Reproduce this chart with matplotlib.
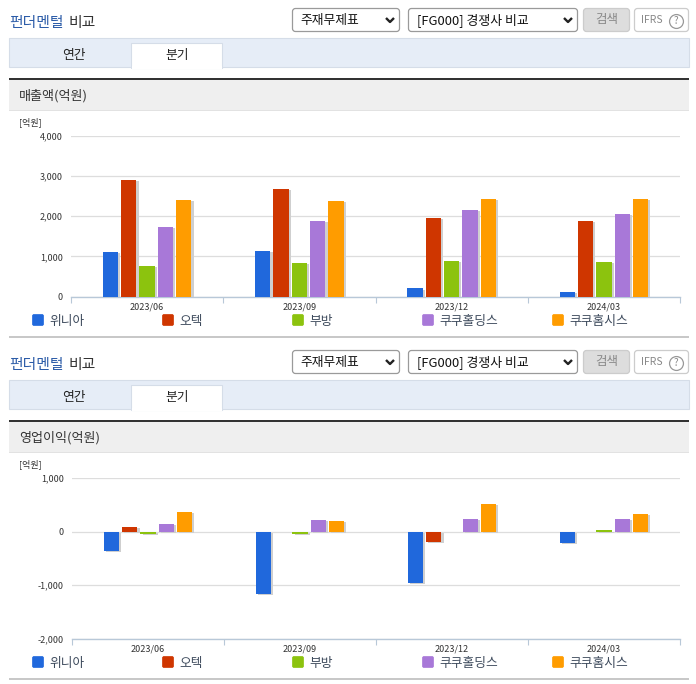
import matplotlib
matplotlib.use("Agg")
import matplotlib.pyplot as plt
import matplotlib.patheffects as pe
from matplotlib.patches import Rectangle, FancyBboxPatch
import numpy as np

plt.rcParams['font.family'] = ['Noto Sans CJK KR', 'DejaVu Sans']

W, H = 696, 684
quarters = ['2023/06', '2023/09', '2023/12', '2024/03']
companies = ['위니아', '오텍', '부방', '쿠쿠홀딩스', '쿠쿠홈시스']
colors = ['#2068dc', '#cf3600', '#8cc30e', '#a878d8', '#ff9c00']

winia_sales = [1115, 1140, 200, 115]
otec_sales = [2915, 2690, 1965, 1890]
bubang_sales = [765, 840, 890, 865]
cuckooh_sales = [1740, 1890, 2150, 2065]
cuckoos_sales = [2415, 2390, 2440, 2440]

winia_op = [-360, -1165, -960, -217]
otec_op = [87, 0, -190, 0]
bubang_op = [-40, -45, 0, 20]
cuckooh_op = [142, 217, 235, 235]
cuckoos_op = [365, 198, 514, 328]

sales = [winia_sales, otec_sales, bubang_sales, cuckooh_sales, cuckoos_sales]
op = [winia_op, otec_op, bubang_op, cuckooh_op, cuckoos_op]

fig = plt.figure(figsize=(W / 100, H / 100), dpi=100, facecolor='white')
ui = fig.add_axes([0, 0, 1, 1])
ui.set_xlim(0, W)
ui.set_ylim(H, 0)
ui.axis('off')


def rect(x0, y0, x1, y1, fc, ec='none', lw=0.0, z=1):
    ui.add_patch(Rectangle((x0, y0), x1 - x0, y1 - y0, fc=fc, ec=ec, lw=lw, zorder=z))


def rbox(x0, y0, x1, y1, fc, ec, z=2, r=3, lw=0.9):
    ui.add_patch(FancyBboxPatch((x0 + r, y0 + r), x1 - x0 - 2 * r, y1 - y0 - 2 * r,
                                boxstyle=f'round,pad={r},rounding_size={r}',
                                fc=fc, ec=ec, lw=lw, zorder=z))


def chevron(x, y):
    ui.plot([x - 4, x, x + 4], [y - 2, y + 2, y - 2], color='#222222', lw=1.7, zorder=3,
            solid_capstyle='butt')


def panel(dy, section, unit_y):
    ui.text(9.5, 23.5 + dy, '펀더멘털', color='#2c5ca8', fontsize=10.7, fontweight='medium', va='center', zorder=3)
    ui.text(68.5, 23.5 + dy, '비교', color='#333333', fontsize=10.7, fontweight='medium', va='center', zorder=3)
    rbox(292.5, 8.5 + dy, 399.5, 31.5 + dy, 'white', '#9a9a9a')
    ui.text(300, 20.5 + dy, '주재무제표', color='#111111', fontsize=9.2, va='center', zorder=3)
    chevron(390, 20 + dy)
    rbox(408.5, 8.5 + dy, 577.5, 31.5 + dy, 'white', '#9a9a9a')
    ui.text(417, 20.5 + dy, '[FG000] 경쟁사 비교', color='#111111', fontsize=9.3, va='center', zorder=3)
    chevron(568, 20 + dy)
    rbox(583.5, 8.5 + dy, 629.5, 31.5 + dy, '#dddddd', '#cccccc')
    ui.text(606.5, 19.5 + dy, '검색', color='#888888', fontsize=9, ha='center', va='center', zorder=3)
    rbox(634.5, 8.5 + dy, 688.5, 31.5 + dy, 'white', '#cccccc')
    ui.text(641, 20 + dy, 'IFRS', color='#888888', fontsize=7.5, va='center', zorder=3)
    ui.plot([675.5], [20.5 + dy], 'o', ms=10, mfc='white', mec='#999999', mew=0.9, zorder=3)
    ui.text(675.5, 20.5 + dy, '?', color='#888888', fontsize=7, ha='center', va='center', zorder=4)

    rect(9, 38 + dy, 688.5, 67 + dy, '#e6edf7', '#d5dde8', 0.8)
    rect(131, 43 + dy, 222, 67.5 + dy, 'white', '#d5dde8', 0.8, z=2)
    rect(131.5, 65.5 + dy, 221.5, 68.5 + dy, 'white', z=2)
    ui.text(74, 55 + dy, '연간', color='#222222', fontsize=9.2, ha='center', va='center', zorder=3)
    ui.text(177, 55 + dy, '분기', color='#222222', fontsize=9.2, ha='center', va='center', zorder=3)

    rect(9, 78 + dy, 689, 80 + dy, '#333333', z=2)
    rect(9, 80 + dy, 689, 110 + dy, '#efefef', z=1)
    rect(9, 110 + dy, 689, 111 + dy, '#e2e2e2', z=1)
    ui.text(19, 96 + dy, section, color='#333333', fontsize=9.4, va='center', zorder=3)
    ui.text(19, unit_y, '[억원]', color='#333333', fontsize=6.5, va='center', zorder=3)

    for i, (name, col) in enumerate(zip(companies, colors)):
        x = 32 + 130 * i
        rbox(x + 0.5, 314.5 + dy, x + 11.5, 325.5 + dy, col, col, r=1.5, lw=0.5)
        ui.text(x + 17, 321 + dy, name, color='#3d4a5c', fontsize=9.2, va='center', zorder=3)
    rect(9, 336 + dy, 689, 338 + dy, '#c8c8c8', z=1)


def chart(x0, x1, ytop, ybot, series, ylim, yticks):
    ax = fig.add_axes([x0 / W, 1 - ybot / H, (x1 - x0) / W, (ybot - ytop) / H])
    ax.patch.set_alpha(0)
    ax.set_xlim(0, len(quarters))
    ax.set_ylim(*ylim)
    pos = np.arange(len(quarters)) + 0.5
    step = 18.3 / ((x1 - x0) / len(quarters))
    width = 15.3 / ((x1 - x0) / len(quarters))
    shadow = [pe.SimplePatchShadow(offset=(1.6, -0.9), shadow_rgbFace='#cfcfcf', alpha=1), pe.Normal()]
    for i, (vals, col) in enumerate(zip(series, colors)):
        bars = ax.bar(pos + (i - 2) * step, vals, width=width, color=col, zorder=3)
        for b in bars:
            if b.get_height() != 0:
                b.set_path_effects(shadow)
    ax.set_yticks(yticks)
    ax.set_yticklabels([f'{v:,}' for v in yticks], fontsize=6.5, color='#333333')
    ax.set_xticks(np.arange(len(quarters) + 1))
    ax.set_xticklabels([])
    ax.set_xticks(pos, minor=True)
    ax.set_xticklabels(quarters, minor=True, fontsize=6.5, color='#333333')
    ax.tick_params(axis='y', length=0, pad=6)
    ax.tick_params(axis='x', which='major', length=4, width=0.8, color='#b8c8d8')
    ax.tick_params(axis='x', which='minor', length=0, pad=4)
    ax.grid(axis='y', color='#dddddd', lw=0.9, zorder=1)
    ax.set_axisbelow(True)
    for s in ['top', 'left', 'right']:
        ax.spines[s].set_visible(False)
    ax.spines['bottom'].set_color('#b8c8d8')
    ax.spines['bottom'].set_linewidth(1.0)
    return ax


panel(0, '매출액(억원)', 122.5)
panel(342, '영업이익(억원)', 464.5)
chart(71, 680, 136, 296.5, sales, (0, 4000), [0, 1000, 2000, 3000, 4000])
chart(72, 680, 478, 638.5, op, (-2000, 1000), [-2000, -1000, 0, 1000])

fig.savefig('out.png', dpi=100, facecolor='white')
